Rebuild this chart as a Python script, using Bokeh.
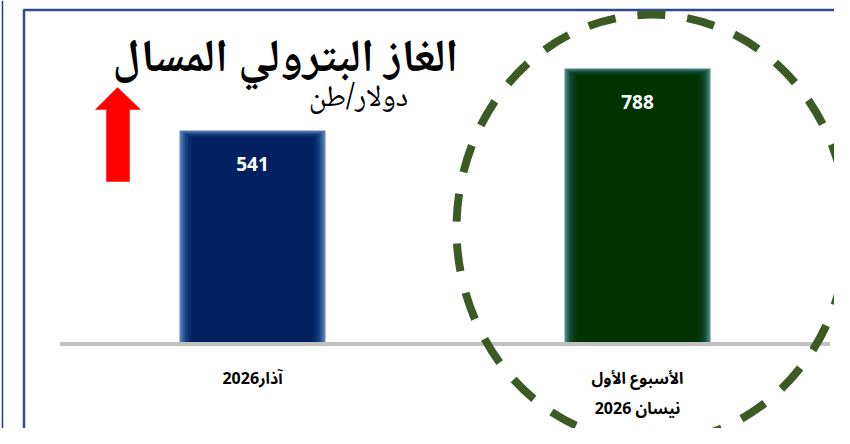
from bokeh.plotting import figure
from bokeh.models import Range1d
from bokeh.core.properties import value
from bokeh.embed import file_html
from bokeh.resources import INLINE

# ---- data ----
categories = ["آذار2026", "الأسبوع الأول\nنيسان 2026"]
prices = [541, 788]
price_labels = ["541", "788"]
title_text = "الغاز البترولي المسال"
unit_text = "دولار/طن"

# ---- layout constants ----
W, H = 834, 428
PX_PER_UNIT = 0.251          # vertical pixels per price unit
Y_BASE = -304                # value axis start (baseline)
BASE_PX = 342                # baseline screen y
UNIT_PX = 385                # pixels per category
CAT0_PX = 252                # screen x of first category centre
X_START = 0.5 - CAT0_PX / UNIT_PX
X_END = 0.5 + (W - CAT0_PX) / UNIT_PX
Y_TOP = Y_BASE + BASE_PX / PX_PER_UNIT
Y_BOT = Y_BASE - (H - BASE_PX) / PX_PER_UNIT
BAR_W = 146 / UNIT_PX

ARABIC = "Noto Naskh Arabic, Noto Sans Arabic, DejaVu Sans, sans-serif"
LABEL_FONT = "Noto Sans Arabic, DejaVu Sans, Noto Sans, sans-serif"

p = figure(width=W, height=H, x_range=Range1d(X_START, X_END), y_range=Range1d(Y_BOT, Y_TOP),
           output_backend="svg", toolbar_location=None, min_border=0,
           background_fill_color="white", border_fill_color="white")
p.outline_line_color = None
p.axis.visible = False
p.grid.visible = False
p.extra_x_ranges = {"px": Range1d(0, W)}
p.extra_y_ranges = {"px": Range1d(0, H)}


def sy(y):  # screen y -> px range coordinate
    return H - y


PX = dict(x_range_name="px", y_range_name="px")

# frame lines
p.line([2, 2], [sy(0), sy(H)], line_color="#1f3c88", line_width=1.5, **PX)
p.line([23.5, 23.5], [sy(9), sy(H)], line_color="#2c4a8c", line_width=2.5, **PX)
p.line([23, W + 10], [sy(9.5), sy(9.5)], line_color="#2c4a8c", line_width=2.5, **PX)

# bars with soft edges
blue_layers = ["#5b84bd", "#3c66a3", "#24508f", "#123b7a", "#06296a", "#002060"]
green_layers = ["#4f8a86", "#2e6b62", "#19553f", "#0b4324", "#033a10", "#003300"]
insets = [0, 2, 4, 6, 9, 12]
xs = [i + 0.5 for i in range(len(prices))]
for i, (xc, v) in enumerate(zip(xs, prices)):
    layers = blue_layers if i == 0 else green_layers
    for col, ins in zip(layers, insets):
        dx = ins / UNIT_PX
        dy = (ins * 0.6) / PX_PER_UNIT
        p.quad(left=[xc - BAR_W / 2 + dx], right=[xc + BAR_W / 2 - dx],
               top=[v - dy], bottom=[Y_BASE], fill_color=col, line_color=None)

# baseline
p.line([0, len(prices)], [Y_BASE - 1.5 / PX_PER_UNIT] * 2, line_color="#c0c0c0", line_width=4)

# value labels
p.text(x=xs, y=prices, text=price_labels, y_offset=34, text_align="center",
       text_baseline="middle", text_color="white", text_font=value("Open Sans"),
       text_font_style="bold", text_font_size="19px")

# category labels (split lines)
for xc, cat in zip(xs, categories):
    for j, line in enumerate(cat.split("\n")):
        p.text(x=[xc], y=[Y_BASE], text=[line], y_offset=36 + j * 30, text_align="center",
               text_baseline="middle", text_color="black", text_font=value(LABEL_FONT),
               text_font_style="bold", text_font_size="16px")

# title and unit
p.text(x=[285], y=[sy(60)], text=[title_text], text_align="center", text_baseline="middle",
       text_font=value(ARABIC), text_font_style="bold", text_font_size="46px",
       text_color="black", **PX)
p.text(x=[358], y=[sy(99)], text=[unit_text], text_align="center", text_baseline="middle",
       text_font=value(ARABIC), text_font_size="30px", text_color="black", **PX)

# red up arrow
ax = [117, 140, 129, 129, 106, 106, 95]
ay = [87, 109, 109, 181, 181, 109, 109]
p.patch(ax, [sy(v) for v in ay], fill_color="#ff0000", line_color="#ff0000", line_width=0.5, **PX)

# dashed green ellipse
p.ellipse(x=[651.5], y=[sy(228)], width=391, height=428, fill_color=None,
          line_color="#3b5a24", line_width=8, line_dash="28 22", **PX)

open("out.html", "w").write(file_html(p, INLINE))
